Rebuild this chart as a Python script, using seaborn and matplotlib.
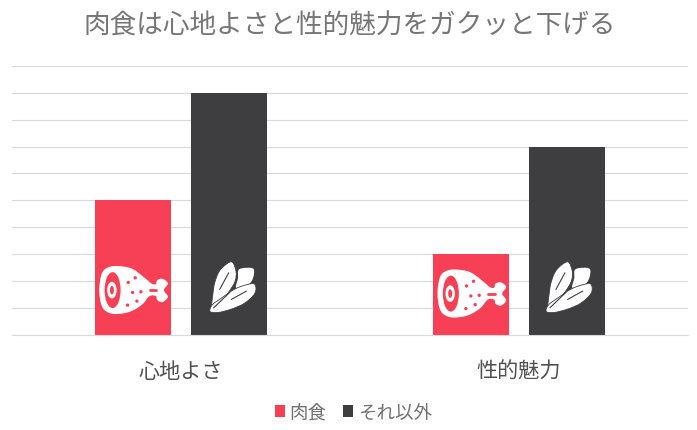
import numpy as np
import pandas as pd
import matplotlib
matplotlib.use("Agg")
import matplotlib.pyplot as plt
from matplotlib.path import Path
from matplotlib.patches import PathPatch, Ellipse, Patch
from matplotlib.transforms import Affine2D, ScaledTranslation
import seaborn as sns

categories = ["心地よさ", "性的魅力"]
meat_values = [5, 3]
other_values = [9, 7]
series_names = ["肉食", "それ以外"]
title_text = "肉食は心地よさと性的魅力をガクッと下げる"
colors = ["#F74055", "#3E3E40"]

sns.set_theme(style="white")
plt.rcParams["font.family"] = ["Noto Sans CJK JP", "DejaVu Sans"]

df = pd.DataFrame({
    "cat": categories * 2,
    "val": meat_values + other_values,
    "series": [series_names[0]] * 2 + [series_names[1]] * 2,
})

fig = plt.figure(figsize=(6.97, 4.31), dpi=100)
W, H = 697, 431
ax = fig.add_axes([11.5 / W, (H - 335.8) / H, 676.5 / W, 269 / H])
sns.barplot(data=df, x="cat", y="val", hue="series", palette=colors, width=0.568, gap=0.208,
            saturation=1, legend=False, ax=ax, linewidth=0, order=categories, hue_order=series_names)
ax.set_xlim(-0.5, 1.5)
ax.set_ylim(0, 10)
ax.set_yticks(range(0, 11))
ax.set_yticklabels([])
ax.yaxis.grid(True, color="#D9D9D9", linewidth=0.8)
ax.set_axisbelow(True)
ax.set_xlabel("")
ax.set_ylabel("")
for s in ["top", "left", "right"]:
    ax.spines[s].set_visible(False)
ax.spines["bottom"].set_color("#D9D9D9")
ax.spines["bottom"].set_linewidth(0.8)
ax.tick_params(axis="x", length=0, pad=18, labelsize=15.2, labelcolor="#505050")
ax.tick_params(axis="y", length=0)

fig.text(350 / W, (H - 26) / H, title_text, ha="center", va="center", fontsize=19.2, color="#767676")

handles = [Patch(facecolor=c, edgecolor="none") for c in colors]
fig.legend(handles, series_names, loc="center", bbox_to_anchor=(353.5 / W, (H - 413.5) / H), ncol=2, frameon=False,
           fontsize=13.3, labelcolor="#707070", handlelength=0.55, handleheight=0.55,
           handletextpad=0.25, columnspacing=0.9, borderpad=0)


def smooth(points):
    """Closed Catmull-Rom outline, as a Bezier path, for the icon shapes."""
    p = np.array(points, float)
    n = len(p)
    verts = [p[0]]
    codes = [Path.MOVETO]
    for i in range(n):
        p0, p1, p2, p3 = p[i - 1], p[i], p[(i + 1) % n], p[(i + 2) % n]
        verts += [p1 + (p2 - p0) / 6, p2 - (p3 - p1) / 6, p2]
        codes += [Path.CURVE4] * 3
    return Path(verts, codes)


def icon_transform(ox, oy, bar, dy):
    # outline units are 1/3 px, y down, origin at the foot of the bar
    x = bar.get_x() + bar.get_width() / 2
    return (Affine2D().translate(-ox, -oy).scale(1 / 3, -1 / 3).translate(0, dy)
            + ScaledTranslation(x, 0, ax.transData))


def draw_ham(bar, dy=0):
    tr = icon_transform(129, 255, bar, dy)
    white, red = "white", colors[0]
    body = [(64, 50), (100, 50), (130, 58), (158, 78), (178, 95), (189, 103), (199, 103), (203, 91), (219, 87),
            (235, 101), (223, 121), (235, 141), (219, 157), (203, 151), (199, 139), (180, 139),
            (158, 164), (130, 182), (100, 191), (64, 191), (38, 172), (29, 121), (38, 68)]
    ax.add_patch(PathPatch(smooth(body), fc=white, ec="none", transform=tr, zorder=5))
    ax.add_patch(Ellipse((69, 121), 48, 108, fc=red, ec="none", transform=tr, zorder=6))
    ax.add_patch(Ellipse((67, 121), 28, 50, fc=white, ec="none", transform=tr, zorder=7))
    ax.add_patch(Ellipse((67, 121), 12, 26, fc=red, ec="none", transform=tr, zorder=8))
    for (cx, cy) in [(116, 98), (137, 84), (129, 128), (154, 126), (114, 166), (142, 154)]:
        ax.add_patch(Ellipse((cx, cy), 10, 10, fc=red, ec="none", transform=tr, zorder=6))
    ax.plot([181, 200], [121, 121], color=red, lw=2, transform=tr, zorder=6, solid_capstyle="round")


def draw_leaf(bar, dy=0, dx=0):
    tr = Affine2D().translate(dx, 0) + icon_transform(417, 255, bar, dy)
    white, dark = "white", colors[1]
    top_right = [(447, 60), (470, 54), (492, 58), (490, 85), (475, 105), (440, 115), (445, 85)]
    big = [(425, 36), (439, 64), (436, 95), (415, 130), (385, 165), (366, 178), (370, 130), (376, 96), (392, 60)]
    lower = [(495, 103), (496, 130), (465, 160), (425, 178), (385, 188), (361, 185), (368, 165), (395, 145),
             (435, 118), (470, 105)]
    ax.add_patch(PathPatch(smooth(top_right), fc=white, ec="none", transform=tr, zorder=5))
    ax.add_patch(PathPatch(smooth(big), fc=white, ec=dark, lw=0.6, transform=tr, zorder=6))
    ax.add_patch(PathPatch(smooth(lower), fc=white, ec=dark, lw=0.6, transform=tr, zorder=7))
    ax.plot([390, 417], [119, 69], color=dark, lw=0.8, transform=tr, zorder=8)
    ax.plot([425, 470], [149, 124], color=dark, lw=0.8, transform=tr, zorder=8)
    ax.plot([372, 420], [174, 128], color=dark, lw=0.8, transform=tr, zorder=8)


bars = sorted(ax.patches, key=lambda b: b.get_x())
bars = [b for b in bars if b.get_height() > 0]
draw_ham(bars[0])
draw_leaf(bars[1])
draw_ham(bars[2], dy=-3.5)
draw_leaf(bars[3], dx=-6)

fig.savefig("out.png", dpi=100, facecolor="white")
